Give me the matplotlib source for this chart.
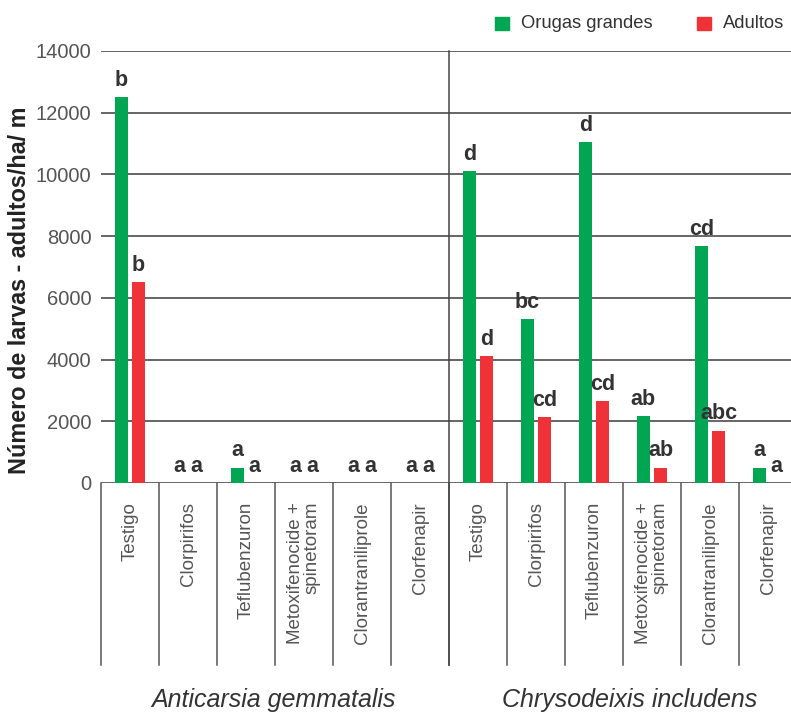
import matplotlib
matplotlib.use("Agg")
import matplotlib.pyplot as plt
from matplotlib.patches import Rectangle
from matplotlib.transforms import blended_transform_factory
import numpy as np

plt.rcParams['font.family'] = ['Liberation Sans', 'DejaVu Sans']

# ---- data ----
species = ["Anticarsia gemmatalis", "Chrysodeixis includens"]
treatments = ["Testigo", "Clorpirifos", "Teflubenzuron",
              "Metoxifenocide +\nspinetoram", "Clorantraniliprole", "Clorfenapir"]
orugas = [12500, 0, 500, 0, 0, 0,
          10100, 5300, 11050, 2170, 7680, 500]
adultos = [6500, 0, 0, 0, 0, 0,
           4100, 2150, 2650, 500, 1700, 0]
letras_orugas = ["b", "a", "a", "a", "a", "a",
                 "d", "bc", "d", "ab", "cd", "a"]
letras_adultos = ["b", "a", "a", "a", "a", "a",
                  "d", "cd", "cd", "ab", "abc", "a"]
yticks = [0, 2000, 4000, 6000, 8000, 10000, 12000, 14000]
legend_labels = ["Orugas grandes", "Adultos"]

GREEN = "#00A651"
RED = "#EE3237"
GRID = "#3c3c3c"
TEXT = "#333333"

W, H = 791, 713
fig = plt.figure(figsize=(W / 100, H / 100), dpi=100)

def fx(px):
    return px / W

def fy(py):
    return 1 - py / H

left, right, top, bottom = 101, 797, 51, 483
ax = fig.add_axes([fx(left), fy(bottom), (right - left) / W, (bottom - top) / H])

labels_all = treatments * 2
x = np.arange(len(labels_all))
bw = 0.235
off = 0.148

ax.bar(x - off, orugas, width=bw, color=GREEN, zorder=3)
ax.bar(x + off, adultos, width=bw, color=RED, zorder=3)

for xi, v, t in zip(x - off, orugas, letras_orugas):
    ax.annotate(t, (xi, v), xytext=(0, 8), textcoords="offset points",
                ha="center", va="baseline", fontsize=15.5, fontweight="bold",
                color=TEXT, zorder=4)
for xi, v, t in zip(x + off, adultos, letras_adultos):
    ax.annotate(t, (xi, v), xytext=(0, 8), textcoords="offset points",
                ha="center", va="baseline", fontsize=15.5, fontweight="bold",
                color=TEXT, zorder=4)

ax.set_xlim(-0.5, len(labels_all) - 0.5)
ax.set_ylim(0, 14000)
ax.set_yticks(yticks)
ax.set_yticklabels([str(v) for v in yticks], fontsize=14.5, color="#555555")
ax.tick_params(axis="y", length=0, pad=7)
ax.set_xticks([])
for s in ax.spines.values():
    s.set_visible(False)
ax.grid(axis="y", color=GRID, linewidth=1.1, zorder=0)
ax.set_axisbelow(True)

# category dividers below the axis
trans = blended_transform_factory(ax.transData, ax.transAxes)
div_bottom = -(665 - bottom) / (bottom - top)
for b in np.arange(-0.5, len(labels_all) + 0.5, 1.0):
    ax.plot([b, b], [0, div_bottom], transform=trans, color="#555555",
            linewidth=1.1, clip_on=False, zorder=2)
# species separator through the plot
mid = len(treatments) - 0.5
ax.plot([mid, mid], [1, div_bottom], transform=trans, color="#444444",
        linewidth=1.1, clip_on=False, zorder=2)

# rotated treatment labels
label_top = -(502 - bottom) / (bottom - top)
for xi, lab in zip(x, labels_all):
    ax.text(xi, label_top, lab, transform=trans, rotation=90, ha="center",
            va="top", multialignment="right", fontsize=13.5, color="#555555",
            linespacing=1.0)

# species names
fig.text(fx(273), fy(707), species[0], ha="center", va="baseline",
         fontsize=18, style="italic", color=TEXT)
fig.text(fx(630), fy(707), species[1], ha="center", va="baseline",
         fontsize=18, style="italic", color=TEXT)

# y-axis title
fig.text(fx(20), fy(290), "Número de larvas - adultos/ha/ m", rotation=90,
         ha="center", va="center", fontsize=16.8, fontweight="bold", color="#222222")

# legend
for (px, lab, col) in [(495, legend_labels[0], GREEN), (697, legend_labels[1], RED)]:
    fig.add_artist(Rectangle((fx(px), fy(30)), 14 / W, 13 / H,
                             transform=fig.transFigure, color=col))
    fig.text(fx(px + 26), fy(23.5), lab, ha="left", va="center",
             fontsize=13.2, color=TEXT)

fig.savefig("out.png", dpi=100)
